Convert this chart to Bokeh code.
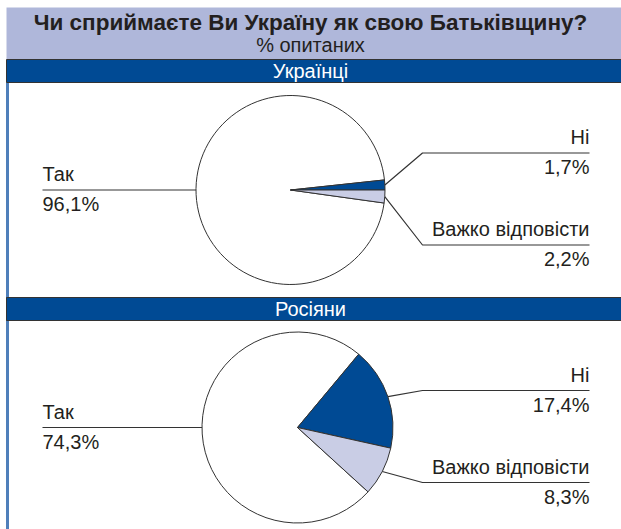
import math
from bokeh.plotting import figure
from bokeh.models import Range1d, ColumnDataSource
from bokeh.core.properties import value
from bokeh.embed import file_html
from bokeh.resources import INLINE

# ---- data ----
title = "Чи сприймаєте Ви Україну як свою Батьківщину?"
subtitle = "% опитаних"
groups = ["Українці", "Росіяни"]
categories = ["Так", "Ні", "Важко відповісти"]
ukrainians = [96.1, 1.7, 2.2]
russians = [74.3, 17.4, 8.3]

# ---- style / layout ----
W, H = 621, 529
FONT = "Liberation Sans"
DARK = "#004A94"
LIGHT = "#C9CDE5"
HEAD = "#AFB7DA"
EDGE = "#333333"
TXT = "#231F20"
TSHIFT = 8  # text baseline correction

def fx(x):
    return x

def fy(y):
    return H - y

def ty(y):
    return H - (y - TSHIFT)

p = figure(width=W, height=H, output_backend="svg", toolbar_location=None,
           x_range=Range1d(0, W), y_range=Range1d(0, H), min_border=0)
p.axis.visible = False
p.grid.visible = False
p.outline_line_color = None
p.background_fill_color = "white"
p.border_fill_color = "white"

# header
p.quad(left=fx(6), right=fx(625), top=fy(7), bottom=fy(59), fill_color=HEAD, line_color=None)
p.text(x=[fx(310)], y=[ty(30)], text=[title], text_font=value(FONT), text_font_size="22.5px",
       text_font_style="bold", text_align="center", text_baseline="alphabetic", text_color=TXT)
p.text(x=[fx(310)], y=[ty(52)], text=[subtitle], text_font=value(FONT), text_font_size="20px",
       text_align="center", text_baseline="alphabetic", text_color=TXT)

# left blue rule
p.segment(x0=[fx(7)], y0=[fy(82)], x1=[fx(7)], y1=[fy(531)], line_color="#4F7FBA", line_width=3)

panels = [
    dict(band=(59, 82), cx=290, cy=189.5, r=94.5, b=0.0, vals=ukrainians, name=groups[0]),
    dict(band=(297, 320), cx=297, cy=427, r=95.5, b=-12.5, vals=russians, name=groups[1]),
]

def fmt(v):
    return f"{v:.1f}%".replace(".", ",")

for pn in panels:
    t, btm = pn["band"]
    p.quad(left=fx(6), right=fx(625), top=fy(t), bottom=fy(btm), fill_color=DARK,
           line_color=EDGE, line_width=1)
    p.text(x=[fx(310)], y=[ty(btm - 4)], text=[pn["name"]], text_font=value(FONT),
           text_font_size="20px", text_align="center", text_baseline="alphabetic",
           text_color="white")

    yes, no, hard = pn["vals"]
    b = pn["b"]
    a_no = no * 3.6
    a_hard = hard * 3.6
    starts = [b + a_no, b, b - a_hard]
    ends = [b - a_hard + 360, b + a_no, b]
    cx, cy, r = fx(pn["cx"]), fy(pn["cy"]), pn["r"]
    src = ColumnDataSource(dict(
        x=[cx] * 3, y=[cy] * 3,
        start=[math.radians(s) for s in starts],
        end=[math.radians(e) for e in ends],
        color=["white", DARK, LIGHT],
    ))
    p.wedge(x="x", y="y", radius=r, start_angle="start", end_angle="end",
            fill_color="color", line_color=EDGE, line_width=1, source=src)

    # leader lines
    p.segment(x0=[fx(42)], y0=[cy], x1=[cx - r], y1=[cy], line_color=EDGE, line_width=1.2)
    mids = [b + a_no / 2, b - a_hard / 2]
    line_ys = [pn["cy"] - 37, pn["cy"] + 55]
    for m, ly in zip(mids, line_ys):
        sx = cx + r * math.cos(math.radians(m))
        sy = cy + r * math.sin(math.radians(m))
        p.line(x=[sx, fx(422), fx(589)], y=[sy, fy(ly), fy(ly)], line_color=EDGE, line_width=1.2)

    # labels
    p.text(x=[fx(42)], y=[ty(pn["cy"] - 8)], text=[categories[0]], text_font=value(FONT),
           text_font_size="20px", text_align="left", text_baseline="alphabetic", text_color=TXT)
    p.text(x=[fx(42)], y=[ty(pn["cy"] + 22)], text=[fmt(yes)], text_font=value(FONT),
           text_font_size="20px", text_align="left", text_baseline="alphabetic", text_color=TXT)
    for cat, v, ly in zip(categories[1:], [no, hard], line_ys):
        p.text(x=[fx(589)], y=[ty(ly - 8)], text=[cat], text_font=value(FONT),
               text_font_size="20px", text_align="right", text_baseline="alphabetic", text_color=TXT)
        p.text(x=[fx(589)], y=[ty(ly + 22)], text=[fmt(v)], text_font=value(FONT),
               text_font_size="20px", text_align="right", text_baseline="alphabetic", text_color=TXT)

open("out.html", "w").write(file_html(p, INLINE))
